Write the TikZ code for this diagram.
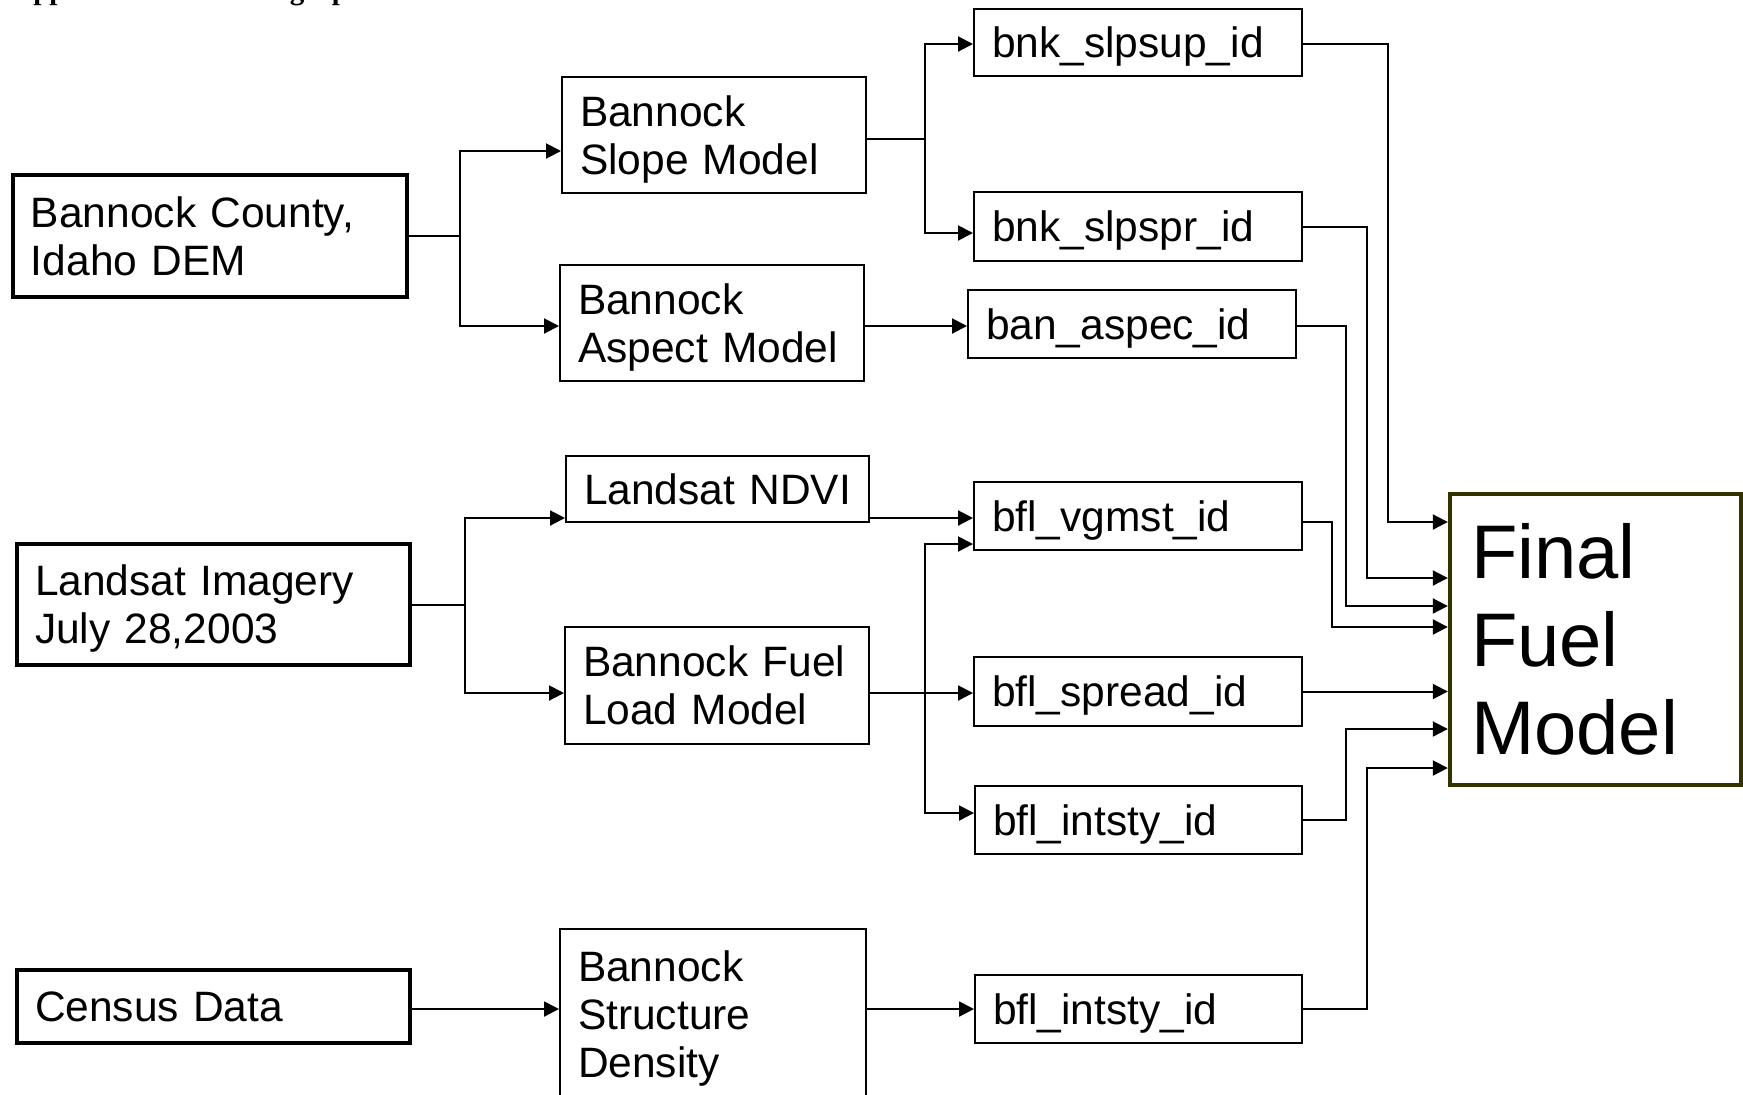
\documentclass[tikz,border=0pt]{standalone}
\usepackage{fontspec}
\setmainfont{Liberation Sans}
\newfontfamily\headfont{Liberation Serif}
\usetikzlibrary{arrows.meta,calc}
\definecolor{olivebd}{RGB}{51,51,0}
\begin{document}
\begin{tikzpicture}[x=0.5pt,y=-0.5pt,
  box/.style={draw, line width=1pt, rectangle, inner xsep=9pt, inner ysep=0pt,
    align=left, font=\fontsize{21.25}{24}\selectfont},
  oneline/.style={text depth=0pt},
  thickbox/.style={box, line width=2.3pt},
  finalbox/.style={draw=olivebd, line width=2.2pt, rectangle, inner xsep=10.5pt, inner ysep=0pt,
    align=left, font=\fontsize{38}{44}\selectfont},
  con/.style={line width=1pt},
  arr/.style={line width=1pt, -{Triangle[length=7.5pt,width=7.5pt]}},
  head/.style={anchor=base west, inner sep=0pt, font=\headfont\bfseries\fontsize{14.5}{16}\selectfont}]

\fill[white] (0,0) rectangle (1743,1094);
\useasboundingbox (0,0) rectangle (1743,1094);

% heading (clipped at the top edge)
\node[head] (hd1) at (12,-1) {Appendix B:};
\node[head] (hd2) at (217,-1) {Cartographic Model};

% sources
\node[thickbox, minimum width=197pt, minimum height=61pt, text width=179pt] (A) at (210,236) {Bannock~County,\\Idaho~DEM};
\node[thickbox, text depth=24pt, minimum width=196.5pt, minimum height=60.5pt, text width=178.5pt] (B) at (213.5,604.5) {Landsat~Imagery\\July~28,2003};
\node[thickbox, oneline, minimum width=196.5pt, minimum height=36.5pt, text width=178.5pt] (C) at (213.5,1006.5) {Census~Data};

% models
\node[box, text depth=24pt, minimum width=152pt, minimum height=58pt, text width=134pt] (Slope) at (714,135) {Bannock\\Slope~Model};
\node[box, text depth=24pt, minimum width=152pt, minimum height=58pt, text width=134pt] (Aspect) at (712,323) {Bannock\\Aspect~Model};
\node[box, oneline, minimum width=151.5pt, minimum height=33pt, text width=133.5pt] (NDVI) at (717.5,489) {Landsat~NDVI};
\node[box, minimum width=152pt, minimum height=58.5pt, text width=134pt] (FuelLoad) at (717,685.5) {Bannock~Fuel\\Load~Model};
\node[box, text depth=48pt, minimum width=153pt, minimum height=85.5pt, text width=135pt] (Struct) at (713,1014.5) {Bannock\\Structure\\Density};

% outputs
\node[box, oneline, minimum width=164pt, minimum height=33.5pt, text width=146pt] (slpsup) at (1138,42.5) {bnk\_slpsup\_id};
\node[box, oneline, minimum width=164pt, minimum height=34.5pt, text width=146pt] (slpspr) at (1138,226.5) {bnk\_slpspr\_id};
\node[box, oneline, minimum width=164pt, minimum height=34pt, text width=146pt] (aspec) at (1132,324) {ban\_aspec\_id};
\node[box, oneline, minimum width=164pt, minimum height=34pt, text width=146pt] (vgmst) at (1138,516) {bfl\_vgmst\_id};
\node[box, oneline, minimum width=164pt, minimum height=34.5pt, text width=146pt] (spread) at (1138,691.5) {bfl\_spread\_id};
\node[box, oneline, minimum width=163.5pt, minimum height=34pt, text width=145.5pt] (intsty1) at (1138.5,820) {bfl\_intsty\_id};
\node[box, oneline, minimum width=163.5pt, minimum height=34pt, text width=145.5pt] (intsty2) at (1138.5,1009) {bfl\_intsty\_id};

% final
\node[finalbox, minimum width=145.5pt, minimum height=145.5pt, text width=124.5pt] (Final) at (1595.5,639.5) {Final\\Fuel\\Model};

% junction columns
\coordinate (jA) at (460,0);
\coordinate (jB) at (465,0);
\coordinate (jS) at (925,0);
\coordinate (k1) at (1388,0);
\coordinate (k2) at (1367,0);
\coordinate (k3) at (1346,0);
\coordinate (k4) at (1332,0);

% DEM to slope / aspect
\draw[con] (A.east) -- (A.east -| jA);
\draw[arr] (A.east -| jA) |- ([yshift=-8pt]Slope.west);
\draw[arr] (A.east -| jA) |- ([yshift=-1.5pt]Aspect.west);

% slope to outputs
\coordinate (sO) at ([yshift=-2pt]Slope.east);
\draw[con] (sO) -- (sO -| jS);
\draw[arr] (sO -| jS) |- ([yshift=-0.75pt]slpsup.west);
\draw[arr] (sO -| jS) |- ([yshift=-3.25pt]slpspr.west);

% aspect
\coordinate (aO) at ([yshift=-1.5pt]Aspect.east);
\draw[arr] (aO) -- (aO -| aspec.west);

% Landsat
\draw[con] (B.east) -- (B.east -| jB);
\draw[arr] (B.east -| jB) |- ([yshift=-14.5pt]NDVI.west);
\draw[arr] (B.east -| jB) |- ([yshift=-3.75pt]FuelLoad.west);

\coordinate (nO) at ([yshift=-14.5pt]NDVI.east);
\draw[arr] (nO) -- (nO -| vgmst.west);

\coordinate (fO) at ([yshift=-3.75pt]FuelLoad.east);
\draw[arr] (fO) -- (fO -| spread.west);
\draw[arr] (fO -| jS) |- ([yshift=-14pt]vgmst.west);
\draw[arr] (fO -| jS) |- ([yshift=3.5pt]intsty1.west);

% census
\coordinate (cO) at ([yshift=-1.25pt]C.east);
\draw[arr] (cO) -- (cO -| Struct.west);
\coordinate (dO) at (Struct.east |- cO);
\draw[arr] (dO) -- (dO -| intsty2.west);

% outputs to final
\coordinate (uO) at ([yshift=-0.75pt]slpsup.east);
\draw[arr] (uO) -- (uO -| k1) |- ([yshift=58.75pt]Final.west);
\draw[arr] (slpspr.east) -- (slpspr.east -| k2) |- ([yshift=30.75pt]Final.west);
\coordinate (pO) at ([yshift=-1pt]aspec.east);
\draw[arr] (pO) -- (pO -| k3) |- ([yshift=16.75pt]Final.west);
\coordinate (vO) at ([yshift=-3pt]vgmst.east);
\draw[arr] (vO) -- (vO -| k4) |- ([yshift=6.25pt]Final.west);
\draw[arr] (spread.east) -- (spread.east -| Final.west);
\draw[arr] (intsty1.east) -- (intsty1.east -| k3) |- ([yshift=-44.75pt]Final.west);
\draw[arr] (intsty2.east) -- (intsty2.east -| k2) |- ([yshift=-64.25pt]Final.west);

\end{tikzpicture}
\end{document}
